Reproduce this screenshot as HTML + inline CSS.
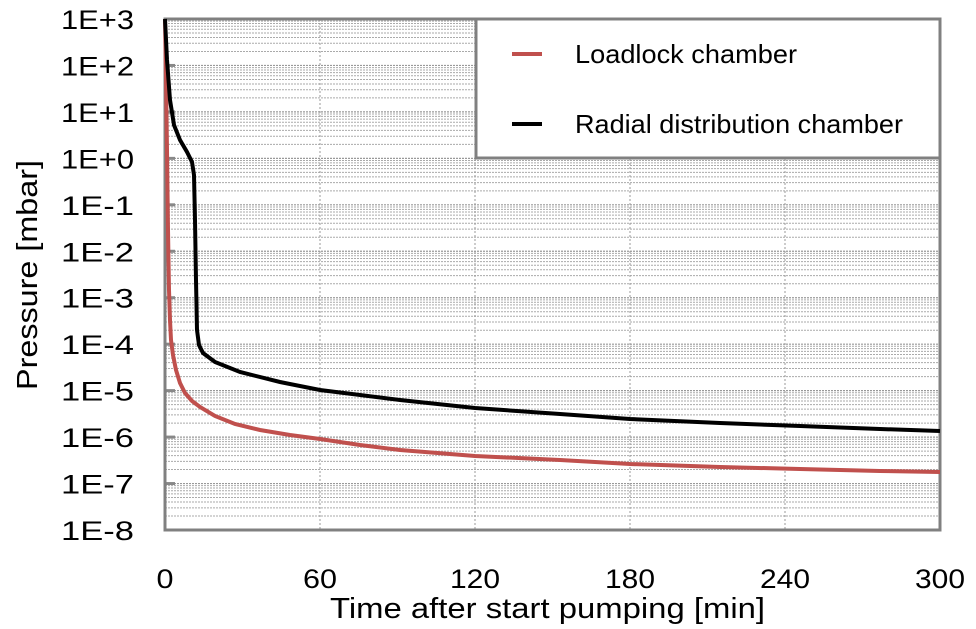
<!DOCTYPE html>
<html><head><meta charset="utf-8"><style>
html,body{margin:0;padding:0;background:#fff;}
svg{display:block;font-family:"Liberation Sans",sans-serif;}
</style></head><body>
<svg id="s" width="976" height="629" xmlns="http://www.w3.org/2000/svg"></svg>
<script>
const s=document.getElementById('s');
const L=165,R=940,T=19,B=530,D=(B-T)/11;
const X=m=>L+m*(R-L)/300, Y=v=>T+(3-Math.log10(v))*D;
let h='';
for(let e=-8;e<3;e++){for(let k=2;k<=9;k++){const y=Y(k*Math.pow(10,e));h+=`<line x1="${L}" x2="${R}" y1="${y}" y2="${y}" stroke="#aaa" stroke-width="1" stroke-dasharray="2,1"/>`;}}
for(let e=-7;e<3;e++){const y=Y(Math.pow(10,e));h+=`<line x1="${L}" x2="${R}" y1="${y}" y2="${y}" stroke="#999" stroke-width="1.2" stroke-dasharray="2,1"/><line x1="${L}" x2="${L+10}" y1="${y}" y2="${y}" stroke="#888" stroke-width="3"/>`;}
for(let m=60;m<300;m+=60){const x=X(m);h+=`<line x1="${x}" x2="${x}" y1="${T}" y2="${B}" stroke="#999" stroke-width="1" stroke-dasharray="2,2"/>`;}
h+=`<rect x="${L}" y="${T}" width="${R-L}" height="${B-T}" fill="none" stroke="#808080" stroke-width="3"/>`;
const lab=['1E+3','1E+2','1E+1','1E+0','1E-1','1E-2','1E-3','1E-4','1E-5','1E-6','1E-7','1E-8'];
lab.forEach((t,i)=>{h+=`<text x="134" y="${T+i*D+10}" font-size="27" text-anchor="end" textLength="73" lengthAdjust="spacingAndGlyphs">${t}</text>`;});
[0,60,120,180,240,300].forEach(m=>{const w=m==0?17:(m<100?34:50);h+=`<text x="${X(m)-w/2}" y="588" font-size="27" textLength="${w}" lengthAdjust="spacingAndGlyphs">${m}</text>`;});
h+=`<text x="330" y="618" font-size="29" textLength="435" lengthAdjust="spacingAndGlyphs">Time after start pumping [min]</text>`;
h+=`<text transform="translate(37,390) rotate(-90)" font-size="29" textLength="230" lengthAdjust="spacingAndGlyphs">Pressure [mbar]</text>`;
function path(pts){return pts.map((p,i)=>(i?'L':'M')+p[0].toFixed(1)+','+p[1].toFixed(1)).join(' ');}
const red=[[165,19],[166,80],[167,150],[168,230],[169,290],[170,320],[171,340],[173,355],[176,370],[180,383],[185,393],[192,401],[200,407],[215,416],[235,424],[260,430],[290,435],[320,439],[360,445],[400,450],[475,456],[560,460],[630,464],[720,467],[800,469],[880,471],[940,472]];
const blk=[[165,19],[167,60],[170,100],[174,125],[180,140],[187,152],[192,162],[194,175],[195,220],[196,280],[197,330],[199,345],[203,353],[215,362],[240,372],[280,382],[320,390],[400,400],[475,408],[560,414],[630,419],[720,423],[800,426],[880,429],[940,431]];
h+=`<path d="${path(red)}" fill="none" stroke="#c0504d" stroke-width="4"/>`;
h+=`<path d="${path(blk)}" fill="none" stroke="#000" stroke-width="4"/>`;
h+=`<rect x="476" y="19" width="464" height="139" fill="#fff" stroke="#808080" stroke-width="3"/>`;
h+=`<line x1="512" x2="542" y1="54" y2="54" stroke="#c0504d" stroke-width="4"/><text x="575" y="63" font-size="26" textLength="222" lengthAdjust="spacingAndGlyphs">Loadlock chamber</text>`;
h+=`<line x1="512" x2="542" y1="124" y2="124" stroke="#000" stroke-width="4"/><text x="575" y="133" font-size="26" textLength="328" lengthAdjust="spacingAndGlyphs">Radial distribution chamber</text>`;
s.innerHTML=h;
</script>
</body></html>
